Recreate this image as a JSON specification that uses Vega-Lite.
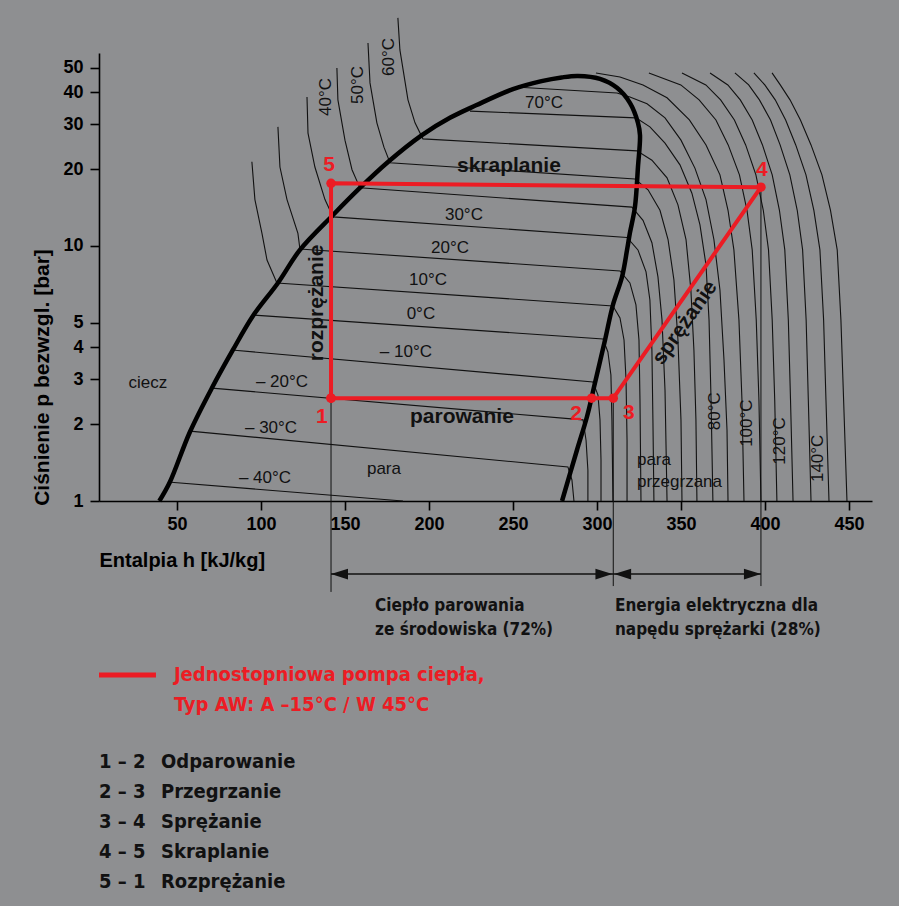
{
"$schema":"https://vega.github.io/schema/vega-lite/v6.json",
"width":773,"height":448,
"autosize":{"type":"none"},
"padding":{"left":99,"top":53,"right":27,"bottom":405},
"background":"#8e8f91",
"config":{"view":{"stroke":null},"font":"Liberation Sans"},
"encoding":{
 "x":{"field":"h","type":"quantitative","scale":{"type":"linear","domain":[3.6,463.7],"nice":false,"zero":false},
  "axis":{"values":[50,100,150,200,250,300,350,400,450],"format":"d","grid":false,"domainColor":"#000","domainWidth":1.6,"tickColor":"#000","tickWidth":1.6,"tickSize":9,"labelFont":"Liberation Sans","labelFontSize":18,"labelFontWeight":"bold","labelColor":"#000","labelPadding":5,"labelFlush":false,
   "title":"Entalpia h [kJ/kg]","titleFont":"Liberation Sans","titleFontSize":20,"titleFontWeight":"bold","titleColor":"#000","titleAnchor":"start","titleAlign":"left","titleBaseline":"middle","titleX":0,"titleY":59}},
 "y":{"field":"p","type":"quantitative","scale":{"type":"log","domain":[1,57.1],"nice":false},
  "axis":{"values":[1,2,3,4,5,10,20,30,40,50],"format":"d","grid":false,"domainColor":"#000","domainWidth":1.6,"tickColor":"#000","tickWidth":1.6,"tickSize":9,"labelFont":"Liberation Sans","labelFontSize":18,"labelFontWeight":"bold","labelColor":"#000","labelPadding":7,
   "title":"Ciśnienie p bezwzgl. [bar]","titleFont":"Liberation Sans","titleFontSize":21,"titleFontWeight":"bold","titleColor":"#000","titleAngle":270,"titleAlign":"center","titleBaseline":"middle","titleX":-57,"titleY":324}}
},
"datasets":{
 "iso":[
  {"c":"T-40","h":44.6,"p":1.187},{"c":"T-40","h":184.5,"p":1.0},
  {"c":"T-30","h":57.7,"p":1.88},{"c":"T-30","h":282.7,"p":1.36},{"c":"T-30","h":285.1,"p":1.209},{"c":"T-30","h":286.3,"p":1.0},
  {"c":"T-20","h":70.8,"p":2.77},{"c":"T-20","h":291.7,"p":2.08},{"c":"T-20","h":293.5,"p":1.73},{"c":"T-20","h":294.6,"p":1.32},{"c":"T-20","h":294.6,"p":1.0},
  {"c":"T-10","h":82.7,"p":3.91},{"c":"T-10","h":297.6,"p":2.93},{"c":"T-10","h":300.6,"p":2.6},{"c":"T-10","h":301.8,"p":2.08},{"c":"T-10","h":302.4,"p":1.45},{"c":"T-10","h":302.4,"p":1.0},
  {"c":"T0","h":95.2,"p":5.36},{"c":"T0","h":303.6,"p":4.32},{"c":"T0","h":306.5,"p":3.84},{"c":"T0","h":308.3,"p":3.12},{"c":"T0","h":308.9,"p":2.08},{"c":"T0","h":309.5,"p":1.0},
  {"c":"T10","h":94.6,"p":21.4},{"c":"T10","h":96.4,"p":15.2},{"c":"T10","h":100.6,"p":11.2},{"c":"T10","h":103.6,"p":8.81},{"c":"T10","h":109.5,"p":7.16},{"c":"T10","h":309.5,"p":5.82},{"c":"T10","h":313.7,"p":5.22},{"c":"T10","h":316.1,"p":4.28},{"c":"T10","h":317.3,"p":2.98},{"c":"T10","h":317.9,"p":1.73},{"c":"T10","h":317.9,"p":1.0},
  {"c":"T20","h":110.1,"p":29.3},{"c":"T20","h":111.3,"p":20.4},{"c":"T20","h":115.5,"p":15.2},{"c":"T20","h":122.0,"p":11.2},{"c":"T20","h":123.2,"p":9.73},{"c":"T20","h":313.7,"p":7.98},{"c":"T20","h":319.6,"p":7.16},{"c":"T20","h":323.2,"p":5.87},{"c":"T20","h":325.0,"p":4.28},{"c":"T20","h":325.6,"p":2.49},{"c":"T20","h":326.2,"p":1.0},
  {"c":"T30","h":127.4,"p":38.4},{"c":"T30","h":128.0,"p":27.7},{"c":"T30","h":132.1,"p":20.4},{"c":"T30","h":138.1,"p":15.2},{"c":"T30","h":142.9,"p":13.0},{"c":"T30","h":317.9,"p":10.8},{"c":"T30","h":324.4,"p":9.65},{"c":"T30","h":329.2,"p":7.91},{"c":"T30","h":331.5,"p":6.14},{"c":"T30","h":332.7,"p":3.91},{"c":"T30","h":333.3,"p":2.08},{"c":"T30","h":333.9,"p":1.0},
  {"c":"T40","h":145.2,"p":49.9},{"c":"T40","h":145.8,"p":37.4},{"c":"T40","h":150.0,"p":26.0},{"c":"T40","h":154.2,"p":19.9},{"c":"T40","h":158.9,"p":16.9},{"c":"T40","h":320.8,"p":14.2},{"c":"T40","h":327.4,"p":12.6},{"c":"T40","h":332.7,"p":10.3},{"c":"T40","h":336.3,"p":7.56},{"c":"T40","h":338.7,"p":5.13},{"c":"T40","h":340.5,"p":2.72},{"c":"T40","h":341.7,"p":1.0},
  {"c":"T50","h":163.7,"p":62.5},{"c":"T50","h":164.9,"p":43.6},{"c":"T50","h":169.0,"p":30.4},{"c":"T50","h":173.2,"p":24.4},{"c":"T50","h":176.8,"p":21.2},{"c":"T50","h":322.6,"p":18.3},{"c":"T50","h":330.4,"p":16.6},{"c":"T50","h":337.5,"p":13.8},{"c":"T50","h":342.3,"p":10.6},{"c":"T50","h":345.8,"p":7.36},{"c":"T50","h":348.2,"p":4.28},{"c":"T50","h":350.0,"p":2.08},{"c":"T50","h":350.6,"p":1.0},
  {"c":"T60","h":181.5,"p":78.4},{"c":"T60","h":182.7,"p":58.7},{"c":"T60","h":187.5,"p":37.4},{"c":"T60","h":191.7,"p":30.4},{"c":"T60","h":196.4,"p":26.3},{"c":"T60","h":323.8,"p":23.6},{"c":"T60","h":332.7,"p":21.7},{"c":"T60","h":341.7,"p":18.5},{"c":"T60","h":348.2,"p":14.5},{"c":"T60","h":353.0,"p":10.6},{"c":"T60","h":355.9,"p":6.72},{"c":"T60","h":357.7,"p":3.91},{"c":"T60","h":358.9,"p":2.08},{"c":"T60","h":359.5,"p":1.0},
  {"c":"T70","h":224.4,"p":33.8},{"c":"T70","h":323.2,"p":31.8},{"c":"T70","h":331.5,"p":29.3},{"c":"T70","h":340.5,"p":25.3},{"c":"T70","h":349.4,"p":20.8},{"c":"T70","h":356.5,"p":16.1},{"c":"T70","h":361.3,"p":12.1},{"c":"T70","h":364.9,"p":8.42},{"c":"T70","h":366.7,"p":5.13},{"c":"T70","h":367.9,"p":2.49},{"c":"T70","h":369.0,"p":1.0},
  {"c":"T80","h":251.2,"p":42.0},{"c":"T80","h":311.9,"p":39.8},{"c":"T80","h":319.6,"p":38.4},{"c":"T80","h":329.8,"p":36.1},{"c":"T80","h":340.5,"p":31.8},{"c":"T80","h":350.0,"p":26.0},{"c":"T80","h":358.3,"p":20.2},{"c":"T80","h":364.9,"p":15.2},{"c":"T80","h":369.6,"p":10.6},{"c":"T80","h":373.2,"p":6.72},{"c":"T80","h":375.6,"p":3.57},{"c":"T80","h":377.4,"p":1.9},{"c":"T80","h":378.0,"p":1.0},
  {"c":"T90","h":299.4,"p":47.7},{"c":"T90","h":313.7,"p":46.0},{"c":"T90","h":327.4,"p":42.8},{"c":"T90","h":341.7,"p":38.1},{"c":"T90","h":355.0,"p":31.2},{"c":"T90","h":364.9,"p":24.9},{"c":"T90","h":373.2,"p":19.0},{"c":"T90","h":378.0,"p":13.8},{"c":"T90","h":381.5,"p":9.65},{"c":"T90","h":384.5,"p":5.13},{"c":"T90","h":386.3,"p":2.49},{"c":"T90","h":387.5,"p":1.0},
  {"c":"T100","h":330.9,"p":47.7},{"c":"T100","h":349.9,"p":42.8},{"c":"T100","h":360.8,"p":37.4},{"c":"T100","h":370.8,"p":31.2},{"c":"T100","h":378.1,"p":24.9},{"c":"T100","h":384.8,"p":19.0},{"c":"T100","h":389.3,"p":13.8},{"c":"T100","h":392.4,"p":9.65},{"c":"T100","h":394.8,"p":5.13},{"c":"T100","h":396.4,"p":2.49},{"c":"T100","h":397.6,"p":1.0},
  {"c":"T110","h":350.6,"p":47.7},{"c":"T110","h":364.8,"p":42.8},{"c":"T110","h":373.6,"p":37.4},{"c":"T110","h":381.8,"p":31.2},{"c":"T110","h":388.5,"p":24.9},{"c":"T110","h":394.6,"p":19.0},{"c":"T110","h":399.0,"p":13.8},{"c":"T110","h":402.1,"p":9.65},{"c":"T110","h":404.3,"p":5.13},{"c":"T110","h":405.8,"p":2.49},{"c":"T110","h":407.1,"p":1.0},
  {"c":"T120","h":367.3,"p":47.7},{"c":"T120","h":377.9,"p":42.8},{"c":"T120","h":385.3,"p":37.4},{"c":"T120","h":392.4,"p":31.2},{"c":"T120","h":398.5,"p":24.9},{"c":"T120","h":404.3,"p":19.0},{"c":"T120","h":408.6,"p":13.8},{"c":"T120","h":411.8,"p":9.65},{"c":"T120","h":413.9,"p":5.13},{"c":"T120","h":415.2,"p":2.49},{"c":"T120","h":416.7,"p":1.0},
  {"c":"T130","h":382.1,"p":47.7},{"c":"T130","h":390.3,"p":42.8},{"c":"T130","h":396.7,"p":37.4},{"c":"T130","h":403.3,"p":31.2},{"c":"T130","h":409.0,"p":24.9},{"c":"T130","h":414.8,"p":19.0},{"c":"T130","h":419.2,"p":13.8},{"c":"T130","h":422.4,"p":9.65},{"c":"T130","h":424.5,"p":5.13},{"c":"T130","h":425.8,"p":2.49},{"c":"T130","h":427.4,"p":1.0},
  {"c":"T140","h":393.4,"p":47.7},{"c":"T140","h":399.9,"p":42.8},{"c":"T140","h":406.1,"p":37.4},{"c":"T140","h":412.3,"p":31.2},{"c":"T140","h":418.3,"p":24.9},{"c":"T140","h":424.4,"p":19.0},{"c":"T140","h":429.1,"p":13.8},{"c":"T140","h":432.7,"p":9.65},{"c":"T140","h":434.9,"p":5.13},{"c":"T140","h":436.3,"p":2.49},{"c":"T140","h":438.1,"p":1.0},
  {"c":"T150","h":404.2,"p":47.7},{"c":"T150","h":409.1,"p":42.8},{"c":"T150","h":414.9,"p":37.4},{"c":"T150","h":421.1,"p":31.2},{"c":"T150","h":427.4,"p":24.9},{"c":"T150","h":433.9,"p":19.0},{"c":"T150","h":439.0,"p":13.8},{"c":"T150","h":443.0,"p":9.65},{"c":"T150","h":445.2,"p":5.13},{"c":"T150","h":446.8,"p":2.49},{"c":"T150","h":448.8,"p":1.0}
 ],
 "sat":[
  {"h":39.5,"p":1.0},{"h":45.8,"p":1.187},{"h":57.7,"p":1.865},{"h":70.8,"p":2.773},{"h":83.3,"p":3.91},{"h":95.2,"p":5.315},{"h":110.1,"p":7.16},{"h":123.2,"p":9.65},{"h":142.9,"p":13.23},{"h":158.9,"p":16.88},{"h":175.6,"p":21.34},{"h":195.8,"p":27.2},{"h":212.5,"p":31.8},{"h":228.0,"p":35.6},{"h":250.0,"p":41.2},{"h":267.0,"p":44.3},{"h":279.0,"p":45.8},{"h":288.7,"p":46.4},{"h":301.8,"p":45.2},{"h":311.9,"p":41.7},{"h":319.6,"p":36.4},{"h":324.4,"p":30.4},{"h":325.6,"p":27.2},{"h":324.4,"p":20.4},{"h":322.6,"p":14.22},{"h":319.6,"p":11.25},{"h":317.9,"p":9.65},{"h":314.9,"p":7.56},{"h":309.5,"p":5.87},{"h":304.8,"p":4.28},{"h":298.8,"p":2.9},{"h":294.0,"p":2.135},{"h":288.1,"p":1.585},{"h":279.2,"p":1.0}
 ],
 "cycle":[
  {"n":"1","h":141.7,"p":2.53},{"n":"2","h":296.8,"p":2.53},{"n":"3","h":309.7,"p":2.53},{"n":"4","h":397.6,"p":17.0},{"n":"5","h":141.7,"p":17.6},{"n":"1","h":141.7,"p":2.53}
 ],
 "vdim":[{"h":141.7,"p":2.53,"p2":0.44},{"h":309.7,"p":2.53,"p2":0.464},{"h":397.6,"p":17.0,"p2":0.464}],
 "hdim":[{"h":141.7,"h2":397.6,"p":0.517}],
 "arrows":[{"h":141.7,"p":0.517,"d":"L"},{"h":309.2,"p":0.517,"d":"R"},{"h":310.2,"p":0.517,"d":"L"},{"h":397.6,"p":0.517,"d":"R"}],
 "nums":[{"t":"1","h":136.3,"p":2.13},{"t":"2","h":287.5,"p":2.19},{"t":"3","h":319.0,"p":2.21},{"t":"4","h":398.2,"p":19.9},{"t":"5","h":140.5,"p":20.8}],
 "lab":[
  {"t":"70°C","h":268.5,"p":36.4},{"t":"30°C","h":220.8,"p":13.2},{"t":"20°C","h":212.5,"p":9.82},{"t":"10°C","h":199.4,"p":7.36},{"t":"0°C","h":195.2,"p":5.41},{"t":"– 10°C","h":186.3,"p":3.84},{"t":"– 20°C","h":112.5,"p":2.93},{"t":"– 30°C","h":106.0,"p":1.93},{"t":"– 40°C","h":102.4,"p":1.23},{"t":"ciecz","h":32.7,"p":2.9},{"t":"para","h":173.2,"p":1.335}
 ],
 "labl":[{"t":"para","h":323.8,"p":1.45},{"t":"przegrzana","h":323.8,"p":1.187}],
 "labv":[{"t":"40°C","h":138.7,"p":38.4},{"t":"50°C","h":157.7,"p":42.8},{"t":"60°C","h":176.2,"p":55.1},{"t":"80°C","h":370.2,"p":2.25},{"t":"100°C","h":389.3,"p":2.02},{"t":"120°C","h":408.9,"p":1.72},{"t":"140°C","h":431.5,"p":1.47}],
 "bold":[{"t":"skraplanie","h":247.6,"p":20.6},{"t":"parowanie","h":219.6,"p":2.13}],
 "boldv":[{"t":"rozprężanie","h":133.3,"p":5.98}],
 "bolds":[{"t":"sprężanie","h":352.4,"p":4.99}],
 "notes":[{"t":"Ciepło parowania","h":167.9,"p":0.3876},{"t":"ze środowiska (72%)","h":167.9,"p":0.3119},{"t":"Energia elektryczna dla","h":310.7,"p":0.3876},{"t":"napędu sprężarki (28%)","h":310.7,"p":0.3119}],
 "legline":[{"h":3.6,"h2":37.5,"p":0.2078}],
 "legtext":[{"t":"Jednostopniowa pompa ciepła,","h":48.2,"p":0.2078},{"t":"Typ AW:  A –15°C / W 45°C","h":48.2,"p":0.1585}],
 "steps":[
  {"k":"1 – 2","t":"Odparowanie","h":3.6,"h2":40.5,"p":0.09474},
  {"k":"2 – 3","t":"Przegrzanie","h":3.6,"h2":40.5,"p":0.07225},
  {"k":"3 – 4","t":"Sprężanie","h":3.6,"h2":40.5,"p":0.0551},
  {"k":"4 – 5","t":"Skraplanie","h":3.6,"h2":40.5,"p":0.04202},
  {"k":"5 – 1","t":"Rozprężanie","h":3.6,"h2":40.5,"p":0.03205}
 ]
},
"layer":[
 {"data":{"name":"iso"},"mark":{"type":"line","color":"#111","strokeWidth":1.1},"encoding":{"detail":{"field":"c"},"order":{"value":null}}},
 {"data":{"name":"sat"},"mark":{"type":"line","color":"#000","strokeWidth":4.5,"strokeJoin":"round","strokeCap":"butt","interpolate":"catmull-rom"},"encoding":{"order":{"value":null}}},
 {"data":{"name":"vdim"},"mark":{"type":"rule","color":"#111","strokeWidth":1},"encoding":{"y2":{"field":"p2"}}},
 {"data":{"name":"hdim"},"mark":{"type":"rule","color":"#111","strokeWidth":1.6},"encoding":{"x2":{"field":"h2"}}},
 {"data":{"name":"arrows"},"mark":{"type":"point","filled":true,"color":"#111","opacity":1,"size":1156,"strokeWidth":0},
  "encoding":{"shape":{"field":"d","type":"nominal","scale":{"domain":["L","R"],"range":["M0,0L1,-0.32L1,0.32Z","M0,0L-1,-0.32L-1,0.32Z"]},"legend":null}}},
 {"data":{"name":"cycle"},"mark":{"type":"line","color":"#ec1c24","strokeWidth":4,"strokeJoin":"round"},"encoding":{"order":{"value":null}}},
 {"data":{"name":"cycle"},"mark":{"type":"point","filled":true,"color":"#ec1c24","opacity":1,"size":90}},
 {"data":{"name":"nums"},"mark":{"type":"text","color":"#ec1c24","fontSize":21,"fontWeight":"bold","align":"center","baseline":"middle"},"encoding":{"text":{"field":"t"}}},
 {"data":{"name":"lab"},"mark":{"type":"text","color":"#111","fontSize":17,"align":"center","baseline":"middle"},"encoding":{"text":{"field":"t"}}},
 {"data":{"name":"labl"},"mark":{"type":"text","color":"#111","fontSize":17,"align":"left","baseline":"middle"},"encoding":{"text":{"field":"t"}}},
 {"data":{"name":"labv"},"mark":{"type":"text","color":"#111","fontSize":17,"align":"center","baseline":"middle","angle":270},"encoding":{"text":{"field":"t"}}},
 {"data":{"name":"bold"},"mark":{"type":"text","color":"#111","fontSize":21,"fontWeight":"bold","align":"center","baseline":"middle"},"encoding":{"text":{"field":"t"}}},
 {"data":{"name":"boldv"},"mark":{"type":"text","color":"#111","fontSize":21,"fontWeight":"bold","align":"center","baseline":"middle","angle":270},"encoding":{"text":{"field":"t"}}},
 {"data":{"name":"bolds"},"mark":{"type":"text","color":"#111","fontSize":21,"fontWeight":"bold","align":"center","baseline":"middle","angle":305},"encoding":{"text":{"field":"t"}}},
 {"data":{"name":"notes"},"mark":{"type":"text","color":"#111","font":"Liberation Sans Narrow, DejaVu Sans Condensed, DejaVu Sans","fontSize":17,"fontWeight":"bold","align":"left","baseline":"middle"},"encoding":{"text":{"field":"t"}}},
 {"data":{"name":"legline"},"mark":{"type":"rule","color":"#ec1c24","strokeWidth":5},"encoding":{"x2":{"field":"h2"}}},
 {"data":{"name":"legtext"},"mark":{"type":"text","color":"#ec1c24","font":"Liberation Sans Narrow, DejaVu Sans Condensed, DejaVu Sans","fontSize":20,"fontWeight":"bold","align":"left","baseline":"middle"},"encoding":{"text":{"field":"t"}}},
 {"data":{"name":"steps"},"mark":{"type":"text","color":"#111","font":"Liberation Sans Narrow, DejaVu Sans Condensed, DejaVu Sans","fontSize":20,"fontWeight":"bold","align":"left","baseline":"middle"},"encoding":{"text":{"field":"k"}}},
 {"data":{"name":"steps"},"mark":{"type":"text","color":"#111","font":"Liberation Sans Narrow, DejaVu Sans Condensed, DejaVu Sans","fontSize":20,"fontWeight":"bold","align":"left","baseline":"middle"},"encoding":{"x":{"field":"h2","type":"quantitative"},"text":{"field":"t"}}}
]
}
